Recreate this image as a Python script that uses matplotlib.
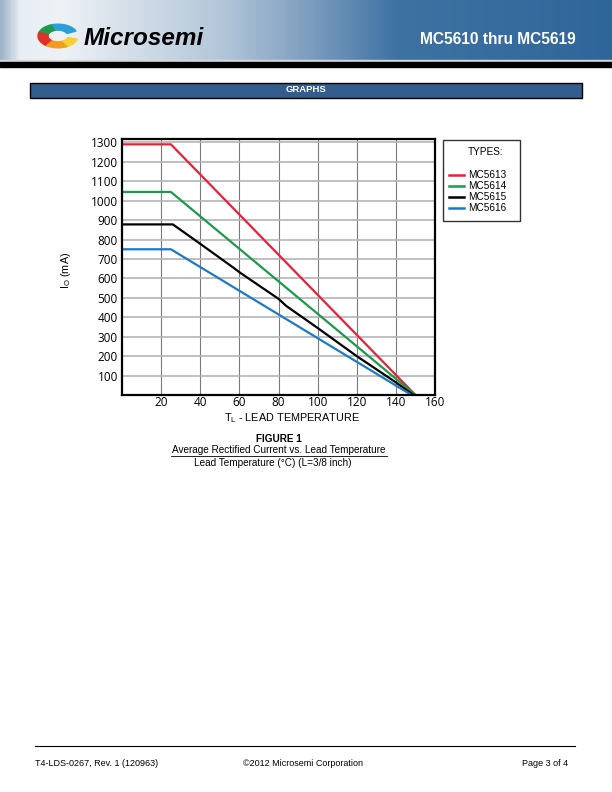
import numpy as np
import matplotlib
matplotlib.use("Agg")
from matplotlib import pyplot as plt
from matplotlib.patches import Rectangle, Wedge
from matplotlib.colors import LinearSegmentedColormap

# data (lead temperature in degC, current in mA)
t_red = [0, 25, 150]
i_red = [1290, 1290, 0]
t_green = [0, 25, 150]
i_green = [1045, 1045, 0]
t_black = [0, 26, 40, 57, 60, 80, 84, 100, 120, 140, 149]
i_black = [878, 878, 778, 655, 632, 495, 458, 345, 200, 65, 0]
t_blue = [0, 25, 148]
i_blue = [750, 750, 0]

series_names = ["MC5613", "MC5614", "MC5615", "MC5616"]
series_colors = ["#e8203a", "#1a9a4a", "#000000", "#1a7ac8"]

x_ticks = [20, 40, 60, 80, 100, 120, 140, 160]
y_ticks = [100, 200, 300, 400, 500, 600, 700, 800, 900, 1000, 1100, 1200, 1300]

W, H = 612, 792
fig = plt.figure(figsize=(6.12, 7.92), dpi=100)
fnt = "Liberation Sans"


def fx(px):
    return px / W


def fy(py):
    return 1 - py / H


# header banner with gradient
hdr = fig.add_axes([0, fy(60), 1, 60 / H])
cmap = LinearSegmentedColormap.from_list(
    "hdr", [(0, "#9fb4c9"), (0.03, "#e8eef4"), (0.1, "#eef2f6"), (0.2, "#d6e0ea"),
            (0.36, "#b3c7d9"), (0.5, "#7f9fc0"), (0.65, "#3e72a3"), (1, "#2f6699")])
hdr.imshow(np.linspace(0, 1, 600).reshape(1, -1), aspect="auto", cmap=cmap,
           extent=[0, 1, 0, 1])
hdr.set_axis_off()
fig.text(fx(498), fy(40), "MC5610 thru MC5619", color="white", fontsize=11.2,
         fontweight="bold", ha="center", va="center", family=fnt)
fig.text(fx(84), fy(38.5), "Microsemi", color="black", fontsize=17.5,
         fontweight="bold", fontstyle="italic", ha="left", va="center", family=fnt)

# little logo swirl
logo = fig.add_axes([fx(34), fy(49), fx(48), 26 / H])
logo.set_xlim(-1.2, 1.2)
logo.set_ylim(-1.1, 1.1)
logo.set_axis_off()
for a1, a2, c in [(25, 110, "#2aa0d8"), (110, 165, "#1f9a4a"), (165, 235, "#e0302a"),
                  (235, 300, "#f39a20"), (300, 345, "#f7d030")]:
    logo.add_patch(Wedge((0, 0), 1.0, a1, a2, width=0.5, color=c))

# rules under header
fig.add_artist(Rectangle((0, fy(62)), 1, 1.5 / H, color="#d8d8d8", transform=fig.transFigure))
fig.add_artist(Rectangle((0, fy(66.5)), 1, 4.5 / H, color="black", transform=fig.transFigure))

# GRAPHS bar
fig.add_artist(Rectangle((fx(30), fy(98)), fx(552), 15 / H, facecolor="#335d8c",
                         edgecolor="black", lw=1, transform=fig.transFigure))
fig.text(0.5, fy(90), "GRAPHS", color="white", fontsize=6.8, fontweight="bold",
         ha="center", va="center", family=fnt)

# main chart
ax = fig.add_axes([fx(122), fy(395), fx(313), (395 - 139.5) / H])
ax.plot(t_red, i_red, color=series_colors[0], lw=1.6)
ax.plot(t_green, i_green, color=series_colors[1], lw=1.6)
ax.plot(t_black, i_black, color=series_colors[2], lw=1.6)
ax.plot(t_blue, i_blue, color=series_colors[3], lw=1.6)
ax.set_xlim(0, 160)
ax.set_ylim(0, 1315)
ax.set_xticks(x_ticks)
ax.set_yticks(y_ticks)
ax.set_xticklabels([str(v) for v in x_ticks], family="Open Sans", fontsize=8.5)
ax.set_yticklabels([str(v) for v in y_ticks], family="Open Sans", fontsize=8.5)
ax.tick_params(length=0, pad=3)
ax.tick_params(axis="x", pad=1)
ax.grid(True, axis="y", color="#b4b4b4", lw=1.2)
ax.grid(True, axis="x", color="#7a7a7a", lw=0.8)
ax.set_axisbelow(True)
for s in ax.spines.values():
    s.set_linewidth(1.6)

fig.text(fx(292), fy(411.5), r"T$_\mathregular{L}$ - LEAD TEMPERATURE", family=fnt,
         fontsize=7.8, ha="center", va="top")
fig.text(fx(66), fy(270), r"I$_\mathregular{O}$ (mA)", family=fnt, fontsize=7.8,
         ha="center", va="center", rotation=90)

# legend box
fig.add_artist(Rectangle((fx(443), fy(221)), fx(77), 81 / H, facecolor="white",
                         edgecolor="#333333", lw=1, transform=fig.transFigure))
fig.text(fx(486), fy(152), "TYPES:", fontsize=7.2, ha="center", va="center", family=fnt)
for k, (name, col) in enumerate(zip(series_names, series_colors)):
    yy = fy(175 + k * 11)
    fig.add_artist(plt.Line2D([fx(449), fx(464)], [yy, yy], color=col, lw=1.8,
                              transform=fig.transFigure))
    fig.text(fx(468), yy, name, fontsize=7.2, ha="left", va="center", family=fnt)

# caption
fig.text(fx(279), fy(439), "FIGURE 1", fontsize=7.2, fontweight="bold",
         ha="center", va="center", family=fnt)
fig.text(fx(279), fy(450.5), "Average Rectified Current vs. Lead Temperature",
         fontsize=7.2, ha="center", va="center", family=fnt)
fig.add_artist(plt.Line2D([fx(171), fx(387)], [fy(455.5), fy(455.5)], color="black", lw=0.6,
                          transform=fig.transFigure))
fig.text(fx(273), fy(462.5), "Lead Temperature (\u00b0C) (L=3/8 inch)", fontsize=7.2,
         ha="center", va="center", family=fnt)

# footer
fig.add_artist(plt.Line2D([fx(35), fx(575)], [fy(746), fy(746)], color="black", lw=0.8,
                          transform=fig.transFigure))
fig.text(fx(35), fy(764), "T4-LDS-0267, Rev. 1 (120963)", fontsize=6.5, ha="left",
         va="center", family=fnt)
fig.text(fx(243), fy(764), "\u00a92012 Microsemi Corporation", fontsize=6.5, ha="left",
         va="center", family=fnt)
fig.text(fx(568), fy(764), "Page 3 of 4", fontsize=6.5, ha="right", va="center", family=fnt)

fig.savefig("out.png", dpi=100)
